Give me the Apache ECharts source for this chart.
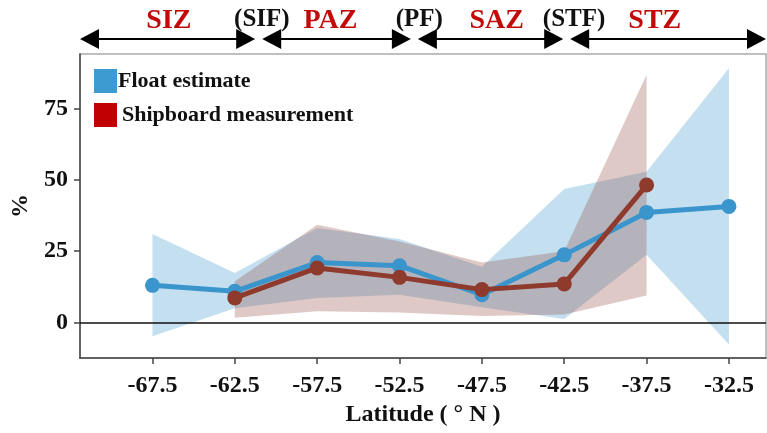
<!DOCTYPE html>
<html>
<head>
<meta charset="utf-8">
<script src="https://cdn.jsdelivr.net/npm/echarts@6/dist/echarts.min.js"></script>
<style>
  html, body { margin: 0; padding: 0; background: #fff; }
  #chart { width: 767px; height: 433px; }
</style>
</head>
<body>
<div id="chart"></div>
<script>
// Latitude bins (°N) and tick labels
const latitudes = [-67.5, -62.5, -57.5, -52.5, -47.5, -42.5, -37.5, -32.5];
const xTicks = [-67.5, -62.5, -57.5, -52.5, -47.5, -42.5, -37.5, -32.5];
const yTicks = [0, 25, 50, 75];

// Float estimate (%) with its uncertainty range
const floatEstimate = [13.0, 10.9, 21.0, 19.9, 9.7, 23.7, 38.6, 40.7];
const floatLow      = [-4.9, 5.0, 8.6, 9.7, 5.3, 1.2, 23.7, -7.8];
const floatHigh     = [31.0, 17.3, 33.1, 29.3, 19.5, 46.8, 52.9, 89.2];

// Shipboard measurement (%) with its range
const shipLatitudes = [-62.5, -57.5, -52.5, -47.5, -42.5, -37.5];
const shipboard     = [8.6, 19.1, 15.8, 11.5, 13.5, 48.2];
const shipLow       = [1.6, 3.9, 3.5, 2.2, 2.8, 9.4];
const shipHigh      = [14.4, 34.3, 28.4, 21.0, 25.0, 86.9];

// Oceanographic zones and fronts along the top
const zoneNames    = ['SIZ', 'PAZ', 'SAZ', 'STZ'];
const zoneLabelLat = [-66.5, -56.7, -46.6, -37.0];
const frontNames    = ['(SIF)', '(PF)', '(STF)'];
const frontLat      = [-61.05, -51.6, -42.35];
const frontLabelLat = [-60.86, -51.3, -41.9];

const X_MIN = -71.9, X_MAX = -30.25;
const Y_MIN = -12.5, Y_MAX = 94.2;

const FONT = 'Liberation Serif';
const BLUE = '#3a95cc';
const BROWN = '#8e3a2c';

const pairs = (xs, ys) => xs.map((x, i) => [x, ys[i]]);
const triples = (xs, lo, hi) => xs.map((x, i) => [x, lo[i], hi[i]]);

// A range band drawn as one filled polygon: upper edge forward, lower edge back
function bandSeries(name, rows, fill, z) {
  return {
    name: name,
    type: 'custom',
    silent: true,
    z: z,
    data: rows,
    encode: { x: 0, y: [1, 2] },
    renderItem: function (params, api) {
      if (params.dataIndex !== 0) return null;
      const upper = rows.map(r => api.coord([r[0], r[2]]));
      const lower = rows.map(r => api.coord([r[0], r[1]])).reverse();
      return {
        type: 'polygon',
        shape: { points: upper.concat(lower) },
        style: { fill: fill, stroke: null }
      };
    }
  };
}

const chart = echarts.init(document.getElementById('chart'), null, { renderer: 'canvas' });

const option = {
  animation: false,
  backgroundColor: '#fff',
  textStyle: { fontFamily: FONT, fontWeight: 'bold', color: '#111' },
  grid: {
    left: 80, right: 1, top: 54, bottom: 75,
    outerBoundsMode: 'none',
    containLabel: false,
    show: true, borderColor: '#aaa', borderWidth: 1.5, backgroundColor: 'transparent'
  },
  legend: {
    orient: 'vertical',
    left: 94, top: 69,
    padding: 0,
    itemWidth: 23, itemHeight: 24, itemGap: 10,
    icon: 'rect',
    selectedMode: false,
    textStyle: { fontFamily: FONT, fontWeight: 'bold', fontSize: 22, color: '#111', lineHeight: 24 },
    data: [
      { name: 'Float estimate', itemStyle: { color: '#3d9bd2' }, textStyle: { padding: [0, 0, 0, -4] } },
      { name: 'Shipboard measurement', itemStyle: { color: '#c00000' } }
    ]
  },
  xAxis: {
    type: 'value',
    min: X_MIN, max: X_MAX,
    name: 'Latitude ( ° N )',
    nameLocation: 'middle',
    nameGap: 45,
    nameTextStyle: { fontFamily: FONT, fontWeight: 'bold', fontSize: 24, color: '#111' },
    axisLine: { show: true, onZero: false, lineStyle: { color: '#444', width: 1.5 } },
    axisTick: { show: true, length: 6, customValues: xTicks, lineStyle: { color: '#444', width: 1.5 } },
    axisLabel: {
      customValues: xTicks,
      margin: 16,
      fontFamily: FONT, fontWeight: 'bold', fontSize: 24, color: '#111',
      formatter: v => v.toFixed(1)
    },
    splitLine: { show: false }
  },
  yAxis: {
    type: 'value',
    min: Y_MIN, max: Y_MAX,
    name: '%',
    nameLocation: 'middle',
    nameGap: 46,
    nameTextStyle: { fontFamily: FONT, fontWeight: 'bold', fontSize: 24, color: '#111' },
    axisLine: { show: true, lineStyle: { color: '#444', width: 1.5 } },
    axisTick: { show: true, length: 6, customValues: yTicks, lineStyle: { color: '#444', width: 1.5 } },
    axisLabel: {
      customValues: yTicks,
      margin: 12,
      fontFamily: FONT, fontWeight: 'bold', fontSize: 24, color: '#111'
    },
    splitLine: { show: false }
  },
  series: [
    bandSeries('floatRange', triples(latitudes, floatLow, floatHigh), 'rgba(58,149,204,0.30)', 1),
    bandSeries('shipRange', triples(shipLatitudes, shipLow, shipHigh), 'rgba(140,60,50,0.28)', 2),
    {
      name: 'Float estimate', type: 'line',
      data: pairs(latitudes, floatEstimate),
      symbol: 'circle', symbolSize: 15, showSymbol: true,
      itemStyle: { color: BLUE },
      lineStyle: { color: BLUE, width: 5 },
      z: 3,
      markLine: {
        silent: true, symbol: 'none', label: { show: false },
        lineStyle: { color: '#111', width: 1.5, type: 'solid' },
        data: [{ yAxis: 0 }]
      }
    },
    {
      name: 'Shipboard measurement', type: 'line',
      data: pairs(shipLatitudes, shipboard),
      symbol: 'circle', symbolSize: 15, showSymbol: true,
      itemStyle: { color: BROWN },
      lineStyle: { color: BROWN, width: 5 },
      z: 4
    }
  ]
};

chart.setOption(option);

// Zone arrows and labels above the plot, positioned from latitude via the x axis
function px(lat) { return chart.convertToPixel({ xAxisIndex: 0 }, lat); }

const ARROW_Y = 39, HEAD_L = 19, HEAD_H = 10, GAP = 3.5;
const bounds = [X_MIN].concat(frontLat).concat([X_MAX]);
const graphics = [];
for (let i = 0; i < zoneNames.length; i++) {
  const x0 = px(bounds[i]) + (i === 0 ? 0 : GAP);
  const x1 = px(bounds[i + 1]) - (i === zoneNames.length - 1 ? 0 : GAP);
  graphics.push({
    type: 'line', silent: true,
    shape: { x1: x0 + HEAD_L - 2, y1: ARROW_Y, x2: x1 - HEAD_L + 2, y2: ARROW_Y },
    style: { stroke: '#000', lineWidth: 2 }
  });
  graphics.push({
    type: 'polygon', silent: true,
    shape: { points: [[x0, ARROW_Y], [x0 + HEAD_L, ARROW_Y - HEAD_H], [x0 + HEAD_L, ARROW_Y + HEAD_H]] },
    style: { fill: '#000' }
  });
  graphics.push({
    type: 'polygon', silent: true,
    shape: { points: [[x1, ARROW_Y], [x1 - HEAD_L, ARROW_Y - HEAD_H], [x1 - HEAD_L, ARROW_Y + HEAD_H]] },
    style: { fill: '#000' }
  });
  graphics.push({
    type: 'text', silent: true,
    x: px(zoneLabelLat[i]), y: 21,
    style: {
      text: zoneNames[i], fill: '#c20a0a',
      font: 'bold 28px "' + FONT + '"',
      align: 'center', verticalAlign: 'middle'
    }
  });
}
for (let i = 0; i < frontNames.length; i++) {
  graphics.push({
    type: 'text', silent: true,
    x: px(frontLabelLat[i]), y: 20,
    style: {
      text: frontNames[i], fill: '#111',
      font: 'bold 25px "' + FONT + '"',
      align: 'center', verticalAlign: 'middle'
    }
  });
}
chart.setOption({ graphic: graphics });
</script>
</body>
</html>
